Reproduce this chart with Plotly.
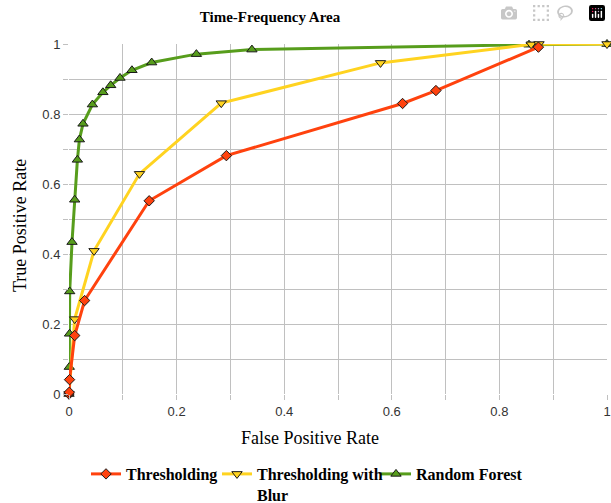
import plotly.graph_objects as go

# ---- data ----
thr_fpr = [0, 0.0005, 0.001, 0.0106, 0.029, 0.149, 0.2925, 0.620, 0.682, 0.8725]
thr_tpr = [0, 0.005, 0.041, 0.167, 0.267, 0.552, 0.681, 0.830, 0.867, 0.991]

blur_fpr = [0, 0.0106, 0.0465, 0.131, 0.283, 0.579, 0.859, 0.8736, 1.0]
blur_tpr = [0, 0.214, 0.409, 0.629, 0.831, 0.946, 0.999, 1.0, 1.0]

rf_fpr = [0, 0.0005, 0.001, 0.0013, 0.0056, 0.0106, 0.0156, 0.0193, 0.026, 0.0435,
          0.063, 0.0775, 0.0948, 0.117, 0.1537, 0.2368, 0.340, 0.855, 1.0]
rf_tpr = [0, 0.077, 0.172, 0.293, 0.434, 0.555, 0.669, 0.727, 0.772, 0.827,
          0.862, 0.882, 0.903, 0.925, 0.947, 0.971, 0.984, 0.998, 1.0]

series_names = ["Thresholding", "Thresholding with<br>Blur", "Random Forest"]
x_ticks = [0, 0.2, 0.4, 0.6, 0.8, 1]
x_tick_labels = ["0", "0.2", "0.4", "0.6", "0.8", "1"]
y_ticks = [0, 0.2, 0.4, 0.6, 0.8, 1]
y_tick_labels = ["0", "0.2", "0.4", "0.6", "0.8", "1"]

RED, YEL, GRN = "#ff420e", "#ffd320", "#579d1c"
GRID = "#c0c0c0"

# body margin is removed in the page, so figure px = screen px
W, H = 611, 503
PL, PR, PT, PB = 69, 607, 44, 394          # plot area in px
PW, PH = PR - PL, PB - PT

fig = go.Figure()

def add(x, y, name, color, symbol, legend_id, size):
    fig.add_trace(go.Scatter(
        x=x, y=y, name="<b>" + name + "</b>", mode="lines+markers",
        line=dict(color=color, width=3),
        marker=dict(symbol=symbol, size=size, color=color,
                    line=dict(color="#1a1a1a", width=1)),
        legend=legend_id, cliponaxis=False,
    ))

add(rf_fpr, rf_tpr, series_names[2], GRN, "triangle-up", "legend3", 9)
add(blur_fpr, blur_tpr, series_names[1], YEL, "triangle-down", "legend2", 9)
add(thr_fpr, thr_tpr, series_names[0], RED, "diamond", "legend", 8)

LEG_TOP = 457
def leg(left):
    return dict(orientation="h", x=(left - PL) / PW, xanchor="left",
                y=(PB - LEG_TOP) / PH, yanchor="top", valign="top",
                font=dict(family="Liberation Serif", size=16, color="black"),
                itemwidth=30, bgcolor="rgba(0,0,0,0)")

fig.update_layout(
    width=W, height=H,
    paper_bgcolor="white", plot_bgcolor="white",
    margin=dict(l=PL, r=W - PR, t=PT, b=H - PB, autoexpand=False),
    title=dict(text="<b>Time-Frequency Area</b>", x=270 / W, xanchor="center",
               y=1 - 17 / H, yanchor="middle",
               font=dict(family="Liberation Serif", size=15, color="black")),
    showlegend=True,
    legend=leg(86), legend2=leg(217), legend3=leg(376),
    font=dict(family="Liberation Sans", size=12, color="#333333"),
)

axis_common = dict(showgrid=True, gridcolor=GRID, gridwidth=1,
                   zeroline=False, showline=False, ticks="outside", ticklen=5,
                   tickcolor=GRID,
                   minor=dict(dtick=0.1, showgrid=True, gridcolor=GRID,
                              ticks="outside", ticklen=5, tickcolor=GRID),
                   tickfont=dict(family="Liberation Sans", size=13, color="#333333"),
                   fixedrange=True)
fig.update_xaxes(range=[0, 1], tickvals=x_ticks, ticktext=x_tick_labels,
                 ticklabeloverflow="allow", **axis_common)
fig.update_yaxes(range=[0, 1], tickvals=y_ticks, ticktext=y_tick_labels, **axis_common)

fig.add_annotation(text="False Positive Rate", xref="paper", yref="paper",
                   x=(310 - PL) / PW, y=(PB - 438) / PH, xanchor="center",
                   yanchor="middle", showarrow=False,
                   font=dict(family="Liberation Serif", size=18, color="black"))
fig.add_annotation(text="True Positive Rate", xref="paper", yref="paper",
                   x=(20 - PL) / PW, y=(PB - 226) / PH, xanchor="center",
                   yanchor="middle", textangle=-90, showarrow=False,
                   font=dict(family="Liberation Serif", size=18, color="black"))

fig.write_html("out.html", config={"responsive": False},
               post_script="document.body.style.margin='0';document.body.style.overflow='hidden';")
